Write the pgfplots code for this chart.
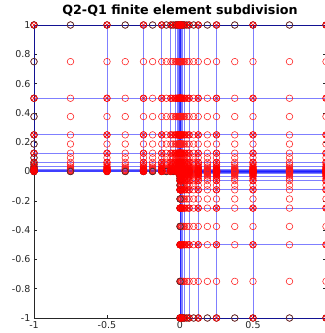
\documentclass[border=0pt]{standalone}
\usepackage{pgfplots}
\pgfplotsset{compat=1.18}
\usepackage{fontspec}
\setmainfont{DejaVu Sans}
\usetikzlibrary{calc,plotmarks}

% node coordinates along each direction (Q2 nodes: vertices and midpoints)
\def\xall{-1,-0.75,-0.5,-0.375,-0.25,-0.1875,-0.125,-0.09375,-0.0625,-0.046875,-0.03125,-0.0234375,-0.015625,-0.01171875,-0.0078125,-0.005859375,-0.00390625,-0.0029296875,-0.001953125,-0.0009765625,0,0.0009765625,0.001953125,0.0029296875,0.00390625,0.005859375,0.0078125,0.01171875,0.015625,0.0234375,0.03125,0.046875,0.0625,0.09375,0.125,0.1875,0.25,0.375,0.5,0.75,1}
\def\xpos{0,0.0009765625,0.001953125,0.0029296875,0.00390625,0.005859375,0.0078125,0.01171875,0.015625,0.0234375,0.03125,0.046875,0.0625,0.09375,0.125,0.1875,0.25,0.375,0.5,0.75,1}
\def\xneg{-1,-0.75,-0.5,-0.375,-0.25,-0.1875,-0.125,-0.09375,-0.0625,-0.046875,-0.03125,-0.0234375,-0.015625,-0.01171875,-0.0078125,-0.005859375,-0.00390625,-0.0029296875,-0.001953125,-0.0009765625}
% element vertices (mesh lines)
\def\vall{-1,-0.5,-0.25,-0.125,-0.0625,-0.03125,-0.015625,-0.0078125,-0.00390625,-0.001953125,0,0.001953125,0.00390625,0.0078125,0.015625,0.03125,0.0625,0.125,0.25,0.5,1}
\def\vpos{0,0.001953125,0.00390625,0.0078125,0.015625,0.03125,0.0625,0.125,0.25,0.5,1}
\def\vneg{-1,-0.5,-0.25,-0.125,-0.0625,-0.03125,-0.015625,-0.0078125,-0.00390625,-0.001953125}

\gdef\redpts{}
\foreach \yy in \xpos {\foreach \xx in \xall {\xdef\redpts{\redpts(\xx,\yy)}}}
\foreach \yy in \xneg {\foreach \xx in \xpos {\xdef\redpts{\redpts(\xx,\yy)}}}

\gdef\vtxpts{}
\foreach \yy in \vpos {\foreach \xx in \vall {\xdef\vtxpts{\vtxpts(\xx,\yy)}}}
\foreach \yy in \vneg {\foreach \xx in \vpos {\xdef\vtxpts{\vtxpts(\xx,\yy)}}}

% Dirichlet boundary nodes (outflow at x=1 excluded)
\gdef\bndpts{}
\foreach \yy in \xpos {\xdef\bndpts{\bndpts(-1,\yy)}}
\foreach \xx in \xall {\xdef\bndpts{\bndpts(\xx,1)}}
\foreach \xx in \xneg {\xdef\bndpts{\bndpts(\xx,0)}}
\foreach \yy in \xneg {\xdef\bndpts{\bndpts(0,\yy)}}
\foreach \xx in \xpos {\xdef\bndpts{\bndpts(\xx,-1)}}

% mesh lines, one plot per line so that overlapping lines darken
\gdef\linecmds{}
\foreach \xx in \vneg {\xdef\linecmds{\unexpanded\expandafter{\linecmds}\noexpand\addplot[meshline] coordinates {(\xx,0)(\xx,1)};}}
\foreach \xx in \vpos {\xdef\linecmds{\unexpanded\expandafter{\linecmds}\noexpand\addplot[meshline] coordinates {(\xx,-1)(\xx,1)};}}
\foreach \yy in \vpos {\xdef\linecmds{\unexpanded\expandafter{\linecmds}\noexpand\addplot[meshline] coordinates {(-1,\yy)(1,\yy)};}}
\foreach \yy in \vneg {\xdef\linecmds{\unexpanded\expandafter{\linecmds}\noexpand\addplot[meshline] coordinates {(0,\yy)(1,\yy)};}}

\pgfplotsset{
  rednode/.style={only marks, mark=o, mark size=3.3pt, color=red!90, mark options={line width=0.55pt}},
  bndnode/.style={only marks, mark=o, mark size=3.3pt, color=black!80, mark options={line width=0.6pt}},
  vtxnode/.style={only marks, mark=otimes, mark size=3.3pt, color=red, mark options={line width=0.55pt}},
  meshline/.style={no marks, color=blue, opacity=0.5, line width=0.9pt},
}

\begin{document}
\begin{tikzpicture}
\begin{axis}[
  name=ax,
  width=292pt, height=293pt, scale only axis,
  xmin=-1, xmax=1, ymin=-1, ymax=1,
  clip=false,
  axis line style={draw=black!85, line width=0.6pt},
  xtick={-1,-0.5,0,0.5,1},
  xticklabels={-1,-0.5,0,0.5,},
  ytick={-1,-0.8,-0.6,-0.4,-0.2,0,0.2,0.4,0.6,0.8,1},
  yticklabels={-1,-0.8,-0.6,-0.4,-0.2,0,0.2,0.4,0.6,0.8,1},
  tick align=inside, major tick length=3pt,
  tick style={draw=black!85, line width=0.5pt},
  ticklabel style={font=\fontsize{9.5}{11}\selectfont, text=black!85},
  title={Q2-Q1 finite element subdivision},
  title style={at={(0.5,1)}, anchor=base, yshift=5pt, font=\bfseries\fontsize{12.7}{14}\selectfont},
]
\edef\tmp{\noexpand\addplot[rednode] coordinates {\redpts};}\tmp
\edef\tmp{\noexpand\addplot[bndnode] coordinates {\bndpts};}\tmp
\edef\tmp{\noexpand\addplot[vtxnode] coordinates {\vtxpts};}\tmp
\linecmds
\end{axis}
\pgfresetboundingbox
\path ($(ax.south west)+(-34pt,-15pt)$) rectangle ($(ax.north east)+(-1pt,25pt)$);
\end{tikzpicture}
\end{document}
